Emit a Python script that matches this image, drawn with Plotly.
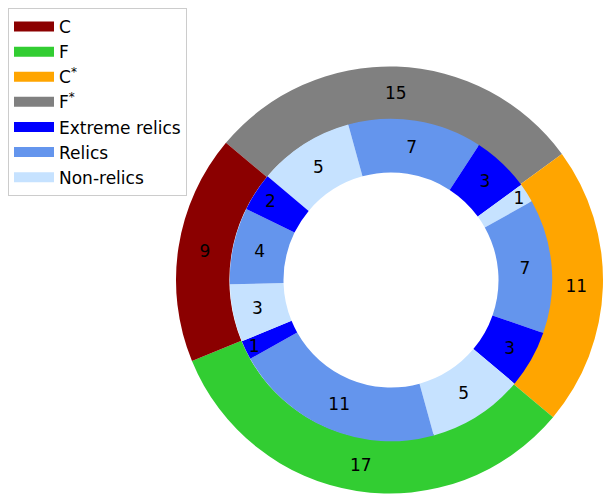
import plotly.graph_objects as go

# Outer ring
groups = ["C", "F", "C<sup>*</sup>", "F<sup>*</sup>"]
group_values = [9, 17, 11, 15]
group_colors = ["#8B0000", "#32CD32", "#FFA500", "#808080"]

# Inner ring (per group: extreme relics, relics, non-relics)
kinds = ["Extreme relics", "Relics", "Non-relics"]
kind_colors = ["#0000FF", "#6495ED", "#C6E2FF"]
inner_values = [2, 4, 3,   1, 11, 5,   3, 7, 1,   3, 7, 5]

# the page body has an 8px margin, so the figure is smaller and shifted
W, H = 595, 487
cx, cy = 383, 272
R = 215.0

def dom(r):
    return dict(x=[max(0, (cx - r) / W), min(1, (cx + r) / W)],
                y=[max(0, (H - cy - r) / H), min(1, (H - cy + r) / H)])

inner_labels = []
inner_colors = []
for g in ["C", "F", "Cs", "Fs"]:
    for k, c in zip(kinds, kind_colors):
        inner_labels.append(f"{g} {k}")
        inner_colors.append(c)

font = dict(family="DejaVu Sans", size=17, color="black")

# counterclockwise from 140 deg == clockwise from 140 deg with reversed order
fig = go.Figure()
fig.add_trace(go.Pie(
    labels=groups[::-1], values=group_values[::-1], hole=0.75,
    marker=dict(colors=group_colors[::-1], line=dict(width=0)),
    sort=False, direction="clockwise", rotation=-50,
    textinfo="value", textposition="inside", insidetextorientation="horizontal",
    insidetextfont=font, domain=dom(R), showlegend=False, hoverinfo="label+value",
))
fig.add_trace(go.Pie(
    labels=inner_labels[::-1], values=inner_values[::-1], hole=0.5 / 0.75,
    marker=dict(colors=inner_colors[::-1], line=dict(width=0)),
    sort=False, direction="clockwise", rotation=-50,
    textinfo="value", textposition="inside", insidetextorientation="horizontal",
    insidetextfont=font, domain=dom(R * 0.75), showlegend=False, hoverinfo="label+value",
))

for name, c in zip(groups + kinds, group_colors + kind_colors):
    fig.add_trace(go.Scatter(x=[None], y=[None], name=name, mode="lines",
                             line=dict(color=c, width=12), showlegend=True))

fig.update_layout(
    width=W, height=H, margin=dict(l=0, r=0, t=0, b=0),
    paper_bgcolor="white", plot_bgcolor="white",
    font=font,
    uniformtext=dict(mode="show", minsize=17),
    xaxis=dict(visible=False), yaxis=dict(visible=False),
    legend=dict(x=0.0, y=1.0, xanchor="left", yanchor="top",
                bordercolor="#cccccc", borderwidth=1, bgcolor="white",
                font=dict(family="DejaVu Sans", size=17, color="black"),
                traceorder="normal", itemwidth=40),
)
fig.write_html("out.html")
